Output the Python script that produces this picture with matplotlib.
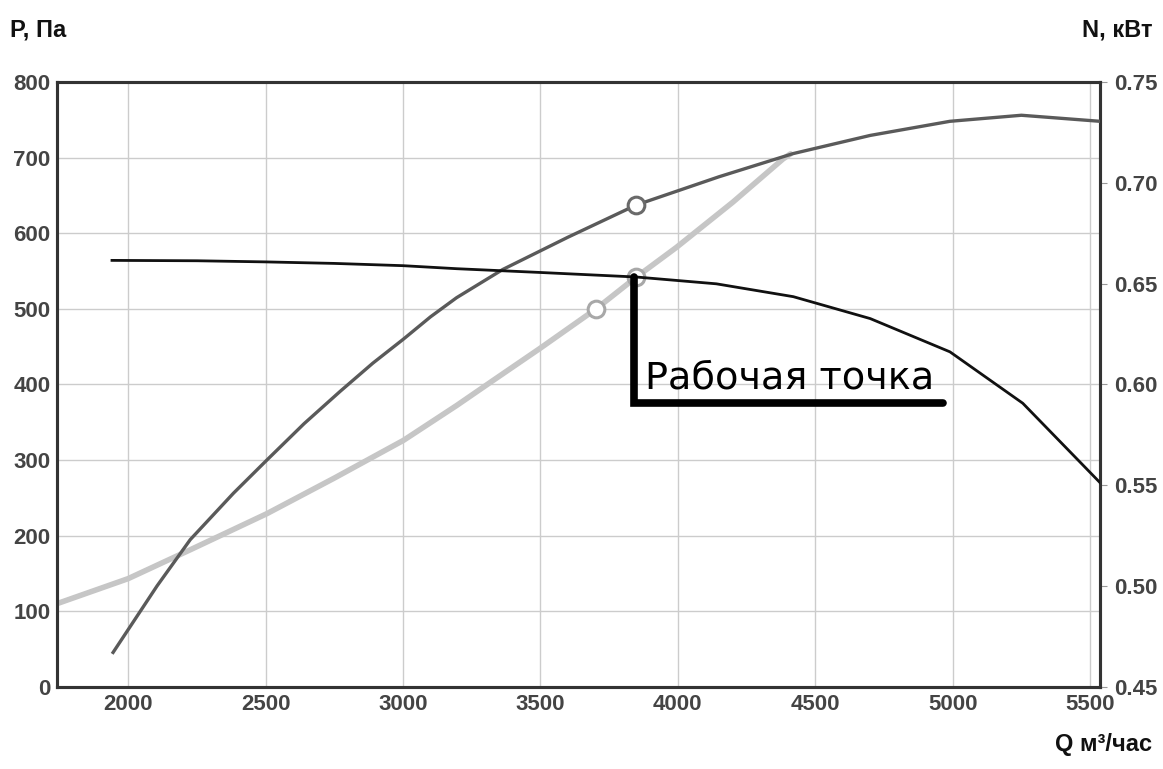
import matplotlib
matplotlib.use("Agg")
import matplotlib.pyplot as plt

plt.rcParams['font.family'] = ['Liberation Sans', 'DejaVu Sans']

# Fan pressure curve P (Pa), left axis
q_fan = [1941, 2250, 2500, 2750, 3000, 3195, 3500, 3849, 4140, 4420, 4700, 4990, 5255, 5536]
p_fan = [564, 563.5, 562, 560, 557, 553, 548, 542, 533, 516, 487, 443, 375, 270]

# Power curve N (kW), right axis
q_pow = [1945, 2105, 2226, 2383, 2505, 2640, 2771, 2890, 3002, 3100, 3195, 3363, 3600, 3849,
         4150, 4420, 4700, 4990, 5250, 5536]
n_pow = [0.467, 0.500, 0.523, 0.546, 0.5625, 0.5805, 0.5965, 0.6105, 0.6225, 0.6335, 0.643,
         0.657, 0.673, 0.689, 0.703, 0.7145, 0.7235, 0.7305, 0.7335, 0.7305]

# System (network) curve P (Pa), left axis
q_sys = [1742, 2000, 2225, 2505, 2750, 3002, 3195, 3327, 3500, 3703, 3849, 3994, 4200, 4382, 4410]
p_sys = [110, 143, 181, 229, 276, 326, 372, 405, 448, 500, 542, 581, 641, 698, 705]

# Markers
mark_pow_q, mark_pow_n = [3849], [0.689]
mark_sys_q, mark_sys_p = [3703, 3849], [500, 542]

# Working point annotation
wp_q, wp_p = 3840, 542
wp_base_p = 375
wp_end_q = 4963
wp_text = "Рабочая точка"

x_ticks = [2000, 2500, 3000, 3500, 4000, 4500, 5000, 5500]
p_ticks = [0, 100, 200, 300, 400, 500, 600, 700, 800]
n_ticks = [0.45, 0.50, 0.55, 0.60, 0.65, 0.70, 0.75]

fig = plt.figure(figsize=(11.63, 7.69), dpi=100)
ax = fig.add_axes([57.3 / 1163, 1 - 686.7 / 769, (1100 - 57.3) / 1163, (686.7 - 82) / 769])
ax2 = ax.twinx()

ax.set_xlim(1742, 5536)
ax.set_ylim(0, 800)
ax2.set_ylim(0.45, 0.75)
ax.set_xticks(x_ticks)
ax.set_yticks(p_ticks)
ax2.set_yticks(n_ticks)
ax2.set_yticklabels([f"{v:.2f}" for v in n_ticks])

ax.grid(True, color='#cccccc', linewidth=1.0)
ax.set_axisbelow(True)

lab_col = '#444444'
for a in (ax, ax2):
    for s in a.spines.values():
        s.set_color('#333333')
        s.set_linewidth(2.2)
ax.tick_params(axis='both', length=0, labelsize=16, labelcolor=lab_col, pad=5)
ax2.tick_params(axis='y', length=5, color='#999999', labelsize=16, labelcolor=lab_col, pad=5)
for lbl in ax.get_xticklabels() + ax.get_yticklabels() + ax2.get_yticklabels():
    lbl.set_fontweight('bold')

# System curve (bottom layer)
ax.plot(q_sys, p_sys, color='#c6c6c6', linewidth=4.0, solid_capstyle='round', zorder=3)
ax.plot(mark_sys_q, mark_sys_p, 'o', markersize=12, markerfacecolor='white',
        markeredgecolor='#a8a8a8', markeredgewidth=2.2, zorder=4)

# Power curve
ax2.plot(q_pow, n_pow, color='#5a5a5a', linewidth=2.4, zorder=3)
ax2.plot(mark_pow_q, mark_pow_n, 'o', markersize=12, markerfacecolor='white',
         markeredgecolor='#6a6a6a', markeredgewidth=2.2, zorder=4)

# Fan pressure curve (top)
ax2.plot(q_fan, p_fan, color='#111111', linewidth=2.0, transform=ax.transData, zorder=5)

# Working point annotation
ax2.plot([wp_q, wp_q, wp_end_q], [wp_p, wp_base_p, wp_base_p], color='black',
         linewidth=5.5, solid_capstyle='round', solid_joinstyle='miter',
         transform=ax.transData, zorder=6)
ax2.text(3879, 395, wp_text, transform=ax.transData, fontsize=27.5,
         family='DejaVu Sans', color='black', ha='left', va='baseline', zorder=7)

# Axis titles
fig.text(10 / 1163, 1 - 30 / 769, "P, Па", fontsize=17, fontweight='bold',
         color='#111111', ha='left', va='center')
fig.text(1152 / 1163, 1 - 30 / 769, "N, кВт", fontsize=17, fontweight='bold',
         color='#111111', ha='right', va='center')
fig.text(1152 / 1163, 1 - 745 / 769, "Q м³/час", fontsize=17, fontweight='bold',
         color='#111111', ha='right', va='center')

fig.savefig("out.png", dpi=100, facecolor='white')
